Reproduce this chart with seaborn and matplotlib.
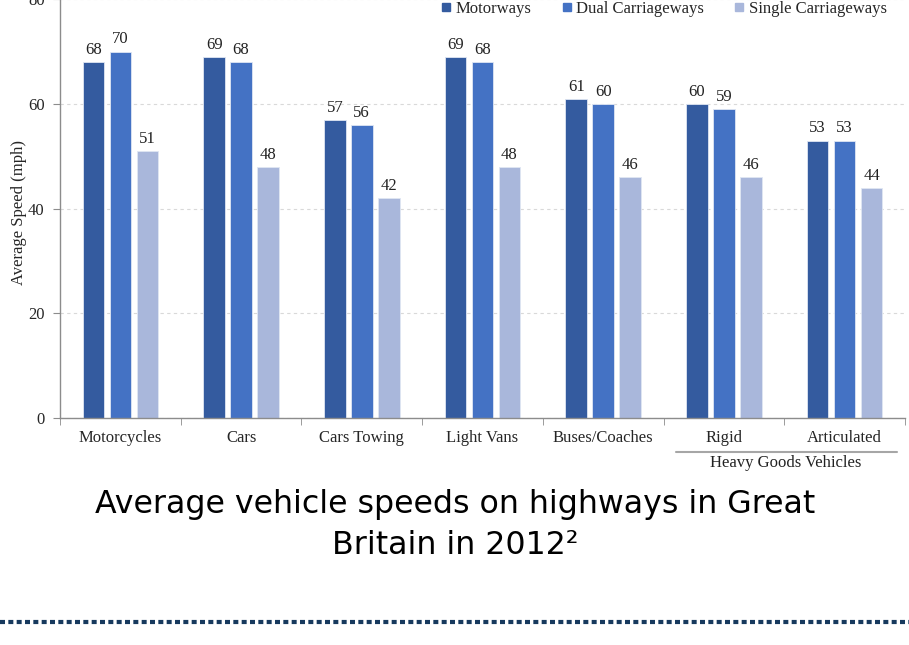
import matplotlib as mpl
import matplotlib.pyplot as plt
import matplotlib.transforms as mtransforms
from matplotlib.lines import Line2D
import seaborn as sns
import pandas as pd
import numpy as np

# Average vehicle speeds by road type, GB 2012
categories = ['Motorcycles', 'Cars', 'Cars Towing', 'Light Vans',
              'Buses/Coaches', 'Rigid', 'Articulated']
road_types = ['Motorways', 'Dual Carriageways', 'Single Carriageways']
motorways = [68, 69, 57, 69, 61, 60, 53]
dual_carriageways = [70, 68, 56, 68, 60, 59, 53]
single_carriageways = [51, 48, 42, 48, 46, 46, 44]
y_ticks = [0, 20, 40, 60, 80]

sns.set_style('white')
mpl.rcParams.update({
    'font.family': ['Liberation Serif', 'DejaVu Serif'],
    'font.size': 12,
})

df = pd.DataFrame({
    'Vehicle': categories * 3,
    'Road': np.repeat(road_types, len(categories)),
    'Speed': motorways + dual_carriageways + single_carriageways,
})

palette = {'Motorways': '#345b9f', 'Dual Carriageways': '#4472c4',
           'Single Carriageways': '#a9b7db'}

fig = plt.figure(figsize=(9.09, 6.45), dpi=100)
ax = fig.add_axes([60 / 909, 227 / 645, 845 / 909, 418.7 / 645])

sns.barplot(data=df, x='Vehicle', y='Speed', hue='Road', order=categories,
            hue_order=road_types, palette=palette, saturation=1, width=0.67, gap=0.2,
            edgecolor='#dfe6f3', linewidth=0.6, ax=ax, legend=False, zorder=2)

for cont in ax.containers:
    ax.bar_label(cont, padding=3, fontsize=12, color='#222222')

ax.set_ylim(0, 80)
ax.set_xlim(-0.5, len(categories) - 0.5)
ax.set_yticks(y_ticks)
ax.yaxis.grid(True, color='#d9d9d9', linestyle=(0, (3, 3)), linewidth=0.8)
ax.set_axisbelow(True)
ax.set_xlabel('')
ax.set_ylabel('Average Speed (mph)', fontsize=12, va='center')
ax.yaxis.set_label_coords(-0.048, 0.49)

for s in ['top', 'right']:
    ax.spines[s].set_visible(False)
for s in ['left', 'bottom']:
    ax.spines[s].set_color('#8c8c8c')
    ax.spines[s].set_linewidth(1.0)

# boundary ticks between categories, labels at centres
ax.set_xticks(np.arange(-0.5, len(categories)), minor=True)
ax.tick_params(axis='x', which='major', length=0, pad=9, labelsize=12)
ax.tick_params(axis='x', which='minor', length=5, color='#8c8c8c', direction='out')
ax.tick_params(axis='y', length=5, color='#8c8c8c', direction='out', labelsize=12, pad=6)
ax.tick_params(left=True, bottom=True, which='both')

# Heavy Goods Vehicles group bracket
trans = mtransforms.blended_transform_factory(ax.transData, ax.transAxes)
ax.plot([4.6, 6.43], [-0.081, -0.081], transform=trans, color='#a6a6a6',
        linewidth=1.5, clip_on=False)
ax.text(5.51, -0.107, 'Heavy Goods Vehicles', transform=trans, ha='center',
        va='center', fontsize=12, color='#222222')

handles = [Line2D([], [], marker='s', linestyle='none', markersize=6,
                  color=palette[r]) for r in road_types]
fig.legend(handles, road_types, loc='center', bbox_to_anchor=(664 / 909, 1 - 9 / 645),
           ncol=3, frameon=False, handlelength=0.6, handletextpad=0.3,
           columnspacing=1.8, fontsize=12, borderpad=0)

fig.text(455 / 909, 1 - 525 / 645,
         'Average vehicle speeds on highways in Great\nBritain in 2012\u00b2',
         ha='center', va='center', fontsize=22.8, family=['DejaVu Sans'],
         linespacing=1.4, color='black')

fig.add_artist(Line2D([0, 1], [1 - 622 / 645, 1 - 622 / 645], transform=fig.transFigure,
                      color='#173a5e', linewidth=3, linestyle=(0, (1.2, 0.8))))

fig.savefig('out.png', dpi=100)
